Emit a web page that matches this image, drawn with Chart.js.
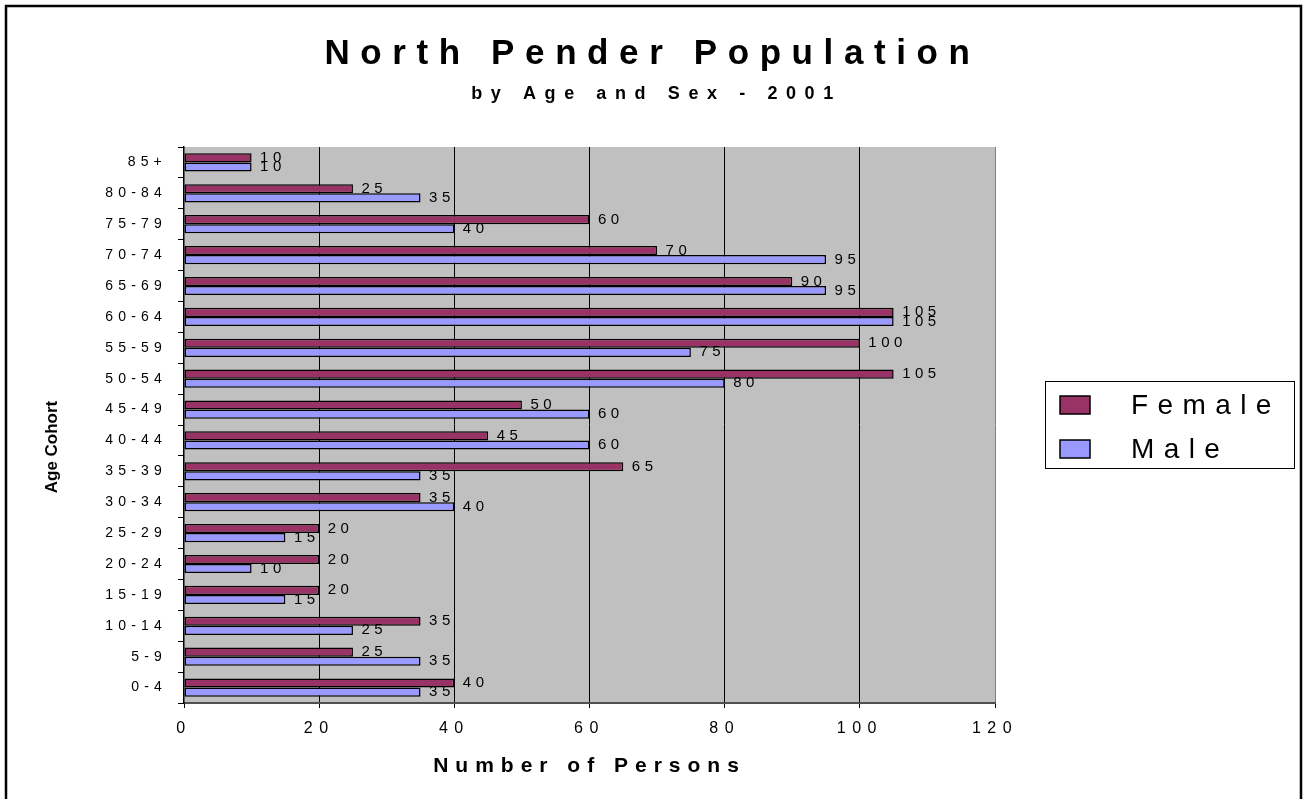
<!DOCTYPE html>
<html>
<head>
<meta charset="utf-8">
<title>North Pender Population</title>
<script src="https://cdn.jsdelivr.net/npm/chart.js@4/dist/chart.umd.min.js"></script>
<style>
  html, body { margin: 0; padding: 0; background: #ffffff; }
  #wrap { width: 1307px; height: 799px; position: relative; }
</style>
</head>
<body>
<div id="wrap"><canvas id="c" width="1307" height="799"></canvas></div>
<script>
// ---- data ----
const ageCohorts = ['85+', '80-84', '75-79', '70-74', '65-69', '60-64', '55-59', '50-54', '45-49',
                    '40-44', '35-39', '30-34', '25-29', '20-24', '15-19', '10-14', '5-9', '0-4'];
const femaleCounts = [10, 25, 60, 70, 90, 105, 100, 105, 50, 45, 65, 35, 20, 20, 20, 35, 25, 40];
const maleCounts   = [10, 35, 40, 95, 95, 105, 75, 80, 60, 60, 35, 40, 15, 10, 15, 25, 35, 35];
const xTickValues  = [0, 20, 40, 60, 80, 100, 120];
const seriesNames  = ['Female', 'Male'];
const seriesColors = ['#993366', '#9999FF'];
const chartTitle    = 'North Pender Population';
const chartSubtitle = 'by Age and Sex - 2001';
const xAxisTitle    = 'Number of Persons';
const yAxisTitle    = 'Age Cohort';

const FONT = "'Liberation Sans', Arial, Helvetica, sans-serif";

function wrapDraw(obj, method, spacing, dx, dy) {
  const orig = obj[method];
  obj[method] = function () {
    const ctx = this.ctx;
    ctx.save();
    ctx.translate(dx, dy);
    ctx.letterSpacing = spacing + 'px';
    orig.apply(this, arguments);
    ctx.restore();
  };
}

const decorPlugin = {
  id: 'decor',
  beforeDraw(chart) {
    const { ctx, chartArea: a } = chart;
    ctx.save();
    ctx.fillStyle = '#ffffff';
    ctx.fillRect(0, 0, chart.width, chart.height);
    ctx.fillStyle = '#C0C0C0';
    ctx.fillRect(a.left, a.top, a.right - a.left, a.bottom - a.top);
    ctx.restore();
    if (!chart.$wrapped) {
      chart.$wrapped = true;
      wrapDraw(chart.scales.x, 'drawLabels', 6.5, 0, 0);
      wrapDraw(chart.scales.y, 'drawLabels', 5.2, 0, 0);
      wrapDraw(chart.scales.x, 'drawTitle', 7, 0, 0);
      wrapDraw(chart.scales.y, 'drawTitle', 0, 0, 22);
      chart.boxes.forEach(b => {
        if (b.options && b.options.text === chartTitle) wrapDraw(b, 'draw', 10.6, 155, 0);
        else if (b.options && b.options.text === chartSubtitle) wrapDraw(b, 'draw', 8.6, 159, 0);
      });
    }
  },
  afterDatasetsDraw(chart) {
    const ctx = chart.ctx;
    ctx.save();
    ctx.letterSpacing = '4.5px';
    ctx.font = '15px ' + FONT;
    ctx.fillStyle = '#000000';
    ctx.textAlign = 'left';
    ctx.textBaseline = 'middle';
    chart.data.datasets.forEach((ds, i) => {
      chart.getDatasetMeta(i).data.forEach((bar, j) => {
        ctx.fillText(String(ds.data[j]), bar.x + 8.5, bar.y);
      });
    });
    ctx.restore();
  },
  afterDraw(chart) {
    const ctx = chart.ctx;
    ctx.save();
    // legend box
    const lx = 1045, ly = 381, lw = 249, lh = 87;
    ctx.fillStyle = '#ffffff';
    ctx.fillRect(lx, ly, lw, lh);
    ctx.strokeStyle = '#000000';
    ctx.lineWidth = 1;
    ctx.strokeRect(lx + 0.5, ly + 0.5, lw, lh);
    ctx.font = '28px ' + FONT;
    ctx.letterSpacing = '9.4px';
    ctx.textAlign = 'left';
    ctx.textBaseline = 'middle';
    chart.data.datasets.forEach((ds, i) => {
      const cy = ly + 24 + i * 44;
      ctx.fillStyle = ds.backgroundColor;
      ctx.fillRect(lx + 15, cy - 9, 30, 18);
      ctx.lineWidth = 1.5;
      ctx.strokeRect(lx + 15, cy - 9, 30, 18);
      ctx.fillStyle = '#000000';
      ctx.fillText(ds.label, lx + 86, cy + 1);
    });
    // outer frame
    ctx.letterSpacing = '0px';
    ctx.lineWidth = 2.5;
    ctx.strokeStyle = '#000000';
    ctx.strokeRect(6, 6, 1295, 800);
    ctx.restore();
  }
};

const chart = new Chart(document.getElementById('c'), {
  type: 'bar',
  data: {
    labels: ageCohorts,
    datasets: [
      { label: seriesNames[0], data: femaleCounts, backgroundColor: seriesColors[0],
        borderColor: '#000000', borderWidth: 1.5, borderSkipped: false,
        barPercentage: 1.0, categoryPercentage: 0.59 },
      { label: seriesNames[1], data: maleCounts, backgroundColor: seriesColors[1],
        borderColor: '#000000', borderWidth: 1.5, borderSkipped: false,
        barPercentage: 1.0, categoryPercentage: 0.59 }
    ]
  },
  options: {
    indexAxis: 'y',
    responsive: false,
    animation: false,
    events: [],
    layout: { padding: { top: 33, left: 0, right: 312, bottom: 0 } },
    plugins: {
      legend: { display: false },
      tooltip: { enabled: false },
      title: {
        display: true, text: chartTitle, color: '#000000',
        font: { family: FONT, size: 35, weight: 'bold', lineHeight: 1.2 },
        padding: { top: 0, bottom: 0 }
      },
      subtitle: {
        display: true, text: chartSubtitle, color: '#000000',
        font: { family: FONT, size: 18, weight: 'bold', lineHeight: 1.2 },
        padding: { top: 8, bottom: 42.4 }
      }
    },
    scales: {
      x: {
        type: 'linear', position: 'bottom',
        min: xTickValues[0], max: xTickValues[xTickValues.length - 1],
        afterBuildTicks: (scale) => { scale.ticks = xTickValues.map(v => ({ value: v })); },
        afterFit: (scale) => { scale.height = 96; },
        ticks: { color: '#000000', font: { family: FONT, size: 16 }, padding: 11, autoSkip: false, maxRotation: 0 },
        grid: {
          color: (c) => (c.tick && c.tick.value === 0) ? 'rgba(0,0,0,0)' : ((c.tick && c.tick.value === 120) ? '#808080' : '#000000'),
          tickColor: '#000000', tickLength: 5, lineWidth: 1, drawTicks: true
        },
        border: { display: true, color: '#505050', width: 2 },
        title: {
          display: true, text: xAxisTitle, color: '#000000',
          font: { family: FONT, size: 21, weight: 'bold', lineHeight: 1.2 },
          padding: { top: 0, bottom: 20.4 }
        }
      },
      y: {
        type: 'category', position: 'left', offset: true,
        afterFit: (scale) => { scale.width = 184; },
        ticks: { color: '#000000', font: { family: FONT, size: 14 }, padding: 11, autoSkip: false },
        grid: { offset: true, drawOnChartArea: false, drawTicks: true, tickLength: 6, color: '#000000', tickColor: '#000000' },
        border: { display: true, color: '#000000', width: 1.5 },
        title: {
          display: true, text: yAxisTitle, color: '#000000',
          font: { family: FONT, size: 17, weight: 'bold', lineHeight: 1.2 },
          padding: { top: 41.8, bottom: 0 }
        }
      }
    }
  },
  plugins: [decorPlugin]
});
chart.draw();
</script>
</body>
</html>
